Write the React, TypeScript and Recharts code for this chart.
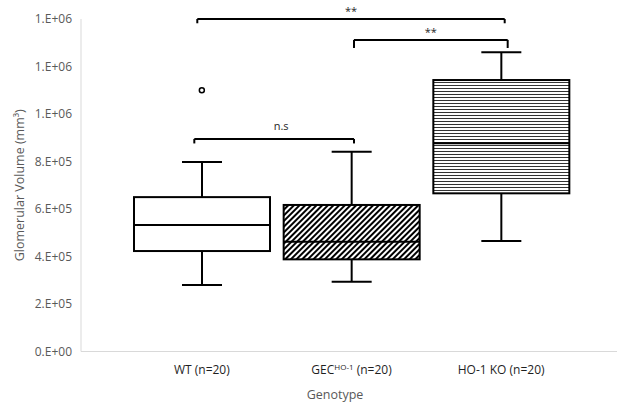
import {
  ComposedChart,
  Bar,
  Scatter,
  XAxis,
  YAxis,
  ReferenceLine,
  Label,
} from "recharts";

const categories = ["WT", "GEC", "HO-1 KO"];
const superscripts = ["", "HO-1", ""];
const counts = [20, 20, 20];
const fills = ["#ffffff", "url(#diagHatch)", "url(#horizLines)"];

const mins = [280000, 294000, 465000];
const q1s = [423000, 388000, 666000];
const medians = [533000, 462000, 877000];
const q3s = [650000, 617000, 1143000];
const maxs = [798000, 841000, 1260000];

// outliers: category index + value
const outliers = [{ cat: 0, value: 1100000 }];

const yTicks = [0, 200000, 400000, 600000, 800000, 1000000, 1200000, 1400000];

// significance brackets, x in category-index units
const brackets = [
  { from: -0.03, to: 2.03, y: 1400000, tip: 1382000, text: "**" },
  { from: 1.02, to: 2.05, y: 1312000, tip: 1278000, text: "**" },
  { from: -0.05, to: 1.02, y: 895000, tip: 876000, text: "n.s" },
];
const bracketLabelStyle = [
  { offset: 4, dx: 0 },
  { offset: 4, dx: 0 },
  { offset: 9, dx: 7 },
];

const rows = categories.map((c, i) => ({
  name: c,
  pos: i,
  box: [q1s[i], q3s[i]],
  min: mins[i],
  med: medians[i],
  max: maxs[i],
  outlier: outliers.find((o) => o.cat === i)?.value,
}));

// Excel "0.E+00" style
const sci = (v: number) => {
  if (v === 0) return "0.E+00";
  const e = Math.floor(Math.log10(v));
  const m = Math.round(v / Math.pow(10, e));
  return `${m}.E+${String(e).padStart(2, "0")}`;
};

const BoxShape = (props: any) => {
  const { x, y, width, height, payload, index } = props;
  const top = Math.min(y, y + height);
  const h = Math.abs(height);
  const [q1, q3] = payload.box;
  const k = h / (q3 - q1);
  const py = (v: number) => top + (q3 - v) * k;
  const cx = x + width / 2;
  const cap = 20;
  return (
    <g stroke="#000" strokeWidth={2} fill="none">
      <line x1={cx} x2={cx} y1={py(payload.max)} y2={top} />
      <line x1={cx} x2={cx} y1={top + h} y2={py(payload.min)} />
      <line x1={cx - cap} x2={cx + cap} y1={py(payload.max)} y2={py(payload.max)} />
      <line x1={cx - cap} x2={cx + cap} y1={py(payload.min)} y2={py(payload.min)} />
      <rect x={x} y={top} width={width} height={h} fill={fills[index]} />
      <line x1={x} x2={x + width} y1={py(payload.med)} y2={py(payload.med)} />
    </g>
  );
};

const OutlierDot = (props: any) => {
  const { cx, cy } = props;
  if (cy == null || isNaN(cy)) return <g />;
  return <circle cx={cx} cy={cy} r={2.5} fill="#fff" stroke="#000" strokeWidth={1.5} />;
};

const CatTick = (props: any) => {
  const { x, y, payload } = props;
  const i = categories.indexOf(payload.value);
  return (
    <text x={x} y={y + 14} textAnchor="middle" fontSize={12} fill="#1f1f1f" fontFamily="Open Sans">
      <tspan>{categories[i]}</tspan>
      {superscripts[i] ? (
        <>
          <tspan dy={-4} fontSize={8}>{superscripts[i]}</tspan>
          <tspan dy={4}>{` (n=${counts[i]})`}</tspan>
        </>
      ) : (
        <tspan>{` (n=${counts[i]})`}</tspan>
      )}
    </text>
  );
};

export default function App() {
  return (
    <div style={{ position: "absolute", left: 0, top: 0, background: "#fff" }}>
      <ComposedChart
        width={617}
        height={403}
        data={rows}
        margin={{ top: 19, right: 0, bottom: 0, left: 0 }}
        style={{ fontFamily: "Open Sans" }}
      >
        <defs>
          <pattern id="diagHatch" width="4" height="4" patternUnits="userSpaceOnUse" patternTransform="rotate(45)">
            <rect width="4" height="4" fill="#fff" />
            <rect width="2" height="4" fill="#000" />
          </pattern>
          <pattern id="horizLines" width="6" height="3" patternUnits="userSpaceOnUse">
            <rect width="6" height="3" fill="#fff" />
            <rect y="1" width="6" height="1" fill="#333" />
          </pattern>
        </defs>
        <XAxis
          dataKey="name"
          height={51.5}
          padding={{ left: 46, right: 41 }}
          axisLine={{ stroke: "#d9d9d9" }}
          tickLine={false}
          tick={<CatTick />}
        >
          <Label
            content={(p: any) => {
              const vb = p.viewBox;
              return (
                <text x={vb.x + vb.width / 2 - 14} y={vb.y + 47} textAnchor="middle" fontSize={12.5} fill="#595959" fontFamily="Open Sans">
                  Genotype
                </text>
              );
            }}
          />
        </XAxis>
        <XAxis
          xAxisId="idx"
          dataKey="pos"
          type="number"
          hide
          allowDataOverflow
          domain={[-121 / 149.5, 416 / 149.5]}
        />
        <YAxis
          domain={[0, 1400000]}
          ticks={yTicks}
          tickFormatter={sci}
          width={81}
          axisLine={{ stroke: "#d9d9d9" }}
          tickLine={false}
          tickMargin={3}
          tick={{ fill: "#595959", fontSize: 12 }}
          interval={0}
        >
          <Label
            content={(p: any) => {
              const vb = p.viewBox;
              const lx = vb.x + 24;
              const ly = vb.y + vb.height / 2;
              return (
                <text
                  x={lx}
                  y={ly}
                  transform={`rotate(-90 ${lx} ${ly})`}
                  textAnchor="middle"
                  fontSize={12.5}
                  fill="#595959"
                  fontFamily="Open Sans"
                >
                  Glomerular Volume (mm³)
                </text>
              );
            }}
          />
        </YAxis>
        <Bar dataKey="box" barSize={136} shape={<BoxShape />} isAnimationActive={false} />
        <Scatter dataKey="outlier" shape={<OutlierDot />} isAnimationActive={false} />
        {brackets.map((b, i) => [
          <ReferenceLine
            key={`h${i}`}
            xAxisId="idx"
            segment={[{ x: b.from, y: b.y }, { x: b.to, y: b.y }]}
            stroke="#000"
            strokeWidth={2}
            ifOverflow="visible"
            label={{
              value: b.text,
              position: "top",
              fill: "#262626",
              fontSize: 11,
              offset: bracketLabelStyle[i].offset,
              dx: bracketLabelStyle[i].dx,
            }}
          />,
          <ReferenceLine
            key={`l${i}`}
            xAxisId="idx"
            segment={[{ x: b.from, y: b.y }, { x: b.from, y: b.tip }]}
            stroke="#000"
            strokeWidth={2}
            ifOverflow="visible"
          />,
          <ReferenceLine
            key={`r${i}`}
            xAxisId="idx"
            segment={[{ x: b.to, y: b.y }, { x: b.to, y: b.tip }]}
            stroke="#000"
            strokeWidth={2}
            ifOverflow="visible"
          />,
        ])}
      </ComposedChart>
    </div>
  );
}
